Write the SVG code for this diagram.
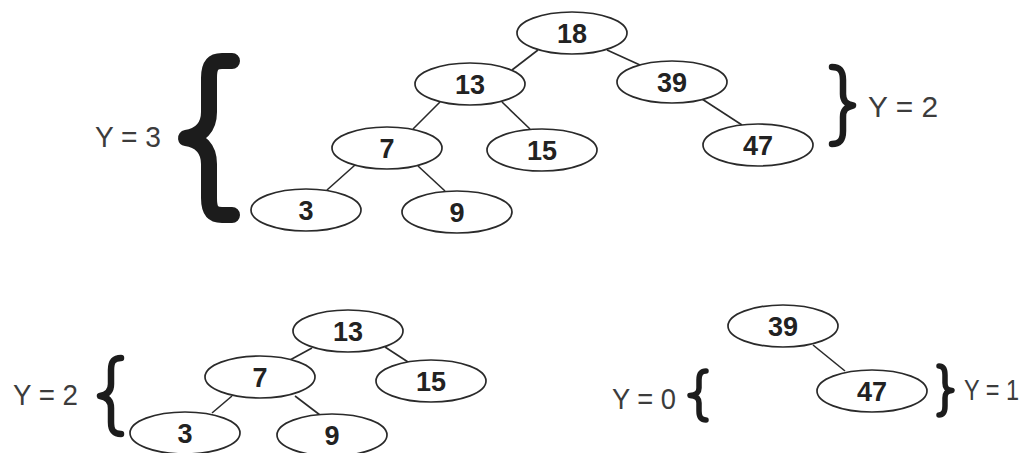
<svg xmlns="http://www.w3.org/2000/svg" width="1034" height="453" viewBox="0 0 1034 453">
  <style>
    .node ellipse { fill: #ffffff; stroke: #2a2a2a; stroke-width: 1.7; }
    .node text { font-family: "Liberation Sans", Arial, sans-serif; font-weight: bold; font-size: 27px; fill: #222222; text-anchor: middle; }
    .edge { stroke: #2a2a2a; stroke-width: 1.6; fill: none; }
    .label { font-family: "Liberation Sans", Arial, sans-serif; font-size: 30px; fill: #3c3c3c; }
    .brace { fill: none; stroke: #1c1c1c; stroke-linejoin: round; stroke-linecap: round; }
  </style>
  <rect width="1034" height="453" fill="#ffffff"/>

  <!-- connectors -->
  <g id="connectors">
    <!-- full tree -->
    <line class="edge" x1="538" y1="50" x2="512" y2="70"/>
    <line class="edge" x1="607" y1="50" x2="640" y2="65"/>
    <line class="edge" x1="440" y1="102" x2="413" y2="129"/>
    <line class="edge" x1="502" y1="102" x2="530" y2="129"/>
    <line class="edge" x1="355" y1="165" x2="327" y2="190"/>
    <line class="edge" x1="418" y1="166" x2="445" y2="191"/>
    <line class="edge" x1="702" y1="99" x2="742" y2="125"/>
    <!-- left subtree -->
    <line class="edge" x1="312" y1="348" x2="290" y2="360"/>
    <line class="edge" x1="385" y1="347" x2="408" y2="362"/>
    <line class="edge" x1="232" y1="396" x2="212" y2="413"/>
    <line class="edge" x1="295" y1="396" x2="320" y2="415"/>
    <!-- right subtree -->
    <line class="edge" x1="813" y1="345" x2="845" y2="371"/>
  </g>

  <!-- full tree nodes -->
  <g id="t-18" class="node"><ellipse cx="572" cy="33" rx="55" ry="21"/><text x="572" y="43">18</text></g>
  <g id="t-13" class="node"><ellipse cx="470" cy="84" rx="55" ry="21"/><text x="470" y="94">13</text></g>
  <g id="t-39" class="node"><ellipse cx="672" cy="82" rx="55" ry="21"/><text x="672" y="92">39</text></g>
  <g id="t-7" class="node"><ellipse cx="387" cy="148" rx="55" ry="21"/><text x="387" y="158">7</text></g>
  <g id="t-15" class="node"><ellipse cx="542" cy="150" rx="55" ry="21"/><text x="542" y="160">15</text></g>
  <g id="t-47" class="node"><ellipse cx="758" cy="145" rx="55" ry="21"/><text x="758" y="155">47</text></g>
  <g id="t-3" class="node"><ellipse cx="306" cy="210" rx="55" ry="21"/><text x="306" y="220">3</text></g>
  <g id="t-9" class="node"><ellipse cx="457" cy="212" rx="55" ry="21"/><text x="457" y="222">9</text></g>

  <!-- left subtree nodes -->
  <g id="l-13" class="node"><ellipse cx="348" cy="331" rx="55" ry="21"/><text x="348" y="341">13</text></g>
  <g id="l-7" class="node"><ellipse cx="260" cy="377" rx="55" ry="21"/><text x="260" y="387">7</text></g>
  <g id="l-15" class="node"><ellipse cx="431" cy="381" rx="55" ry="21"/><text x="431" y="391">15</text></g>
  <g id="l-3" class="node"><ellipse cx="185" cy="433" rx="55" ry="21"/><text x="185" y="443">3</text></g>
  <g id="l-9" class="node"><ellipse cx="332" cy="435" rx="55" ry="21"/><text x="332" y="445">9</text></g>

  <!-- right subtree nodes -->
  <g id="r-39" class="node"><ellipse cx="783" cy="326" rx="55" ry="21"/><text x="783" y="336">39</text></g>
  <g id="r-47" class="node"><ellipse cx="872" cy="391" rx="55" ry="21"/><text x="872" y="401">47</text></g>

  <!-- height braces -->
  <g id="braces">
    <path class="brace" stroke-width="16" stroke-linecap="butt"
          d="M 232 61 L 222 61 C 212 61 209 66 209 78 L 209 112 C 209 128 200 136 186 138 C 200 140 209 148 209 164 L 209 198 C 209 210 212 215 222 215 L 232 215"/>
    <path class="brace" stroke-width="6.5"
          d="M 832 67 C 840 67 843 71 843 80 L 843 94 C 843 101 846 104 853 105.5 C 846 107 843 110 843 117 L 843 131 C 843 140 840 144 832 144"/>
    <path class="brace" stroke-width="6.5"
          d="M 121 358 C 113 358 111 362 111 370 L 111 384 C 111 391 107 395 100 396 C 107 397 111 401 111 408 L 111 422 C 111 430 113 434 121 434"/>
    <path class="brace" stroke-width="5.5"
          d="M 706 371 C 701 371 699 374 699 380 L 699 388 C 699 393 696 395 690 395.5 C 696 396 699 398 699 403 L 699 411 C 699 417 701 420 706 420"/>
    <path class="brace" stroke-width="5.5"
          d="M 939 366 C 943 366 945 369 945 375 L 945 383 C 945 388 947 390 952 390.5 C 947 391 945 393 945 398 L 945 406 C 945 412 943 415 939 415"/>
  </g>

  <!-- height labels -->
  <g id="labels">
    <text class="label" x="95" y="147" textLength="66" lengthAdjust="spacingAndGlyphs">Y = 3</text>
    <text class="label" x="868" y="117" textLength="70" lengthAdjust="spacingAndGlyphs">Y = 2</text>
    <text class="label" x="13" y="405" textLength="65" lengthAdjust="spacingAndGlyphs">Y = 2</text>
    <text class="label" x="612" y="409" textLength="64" lengthAdjust="spacingAndGlyphs">Y = 0</text>
    <text class="label" x="964" y="400" textLength="55" lengthAdjust="spacingAndGlyphs">Y = 1</text>
  </g>
</svg>
